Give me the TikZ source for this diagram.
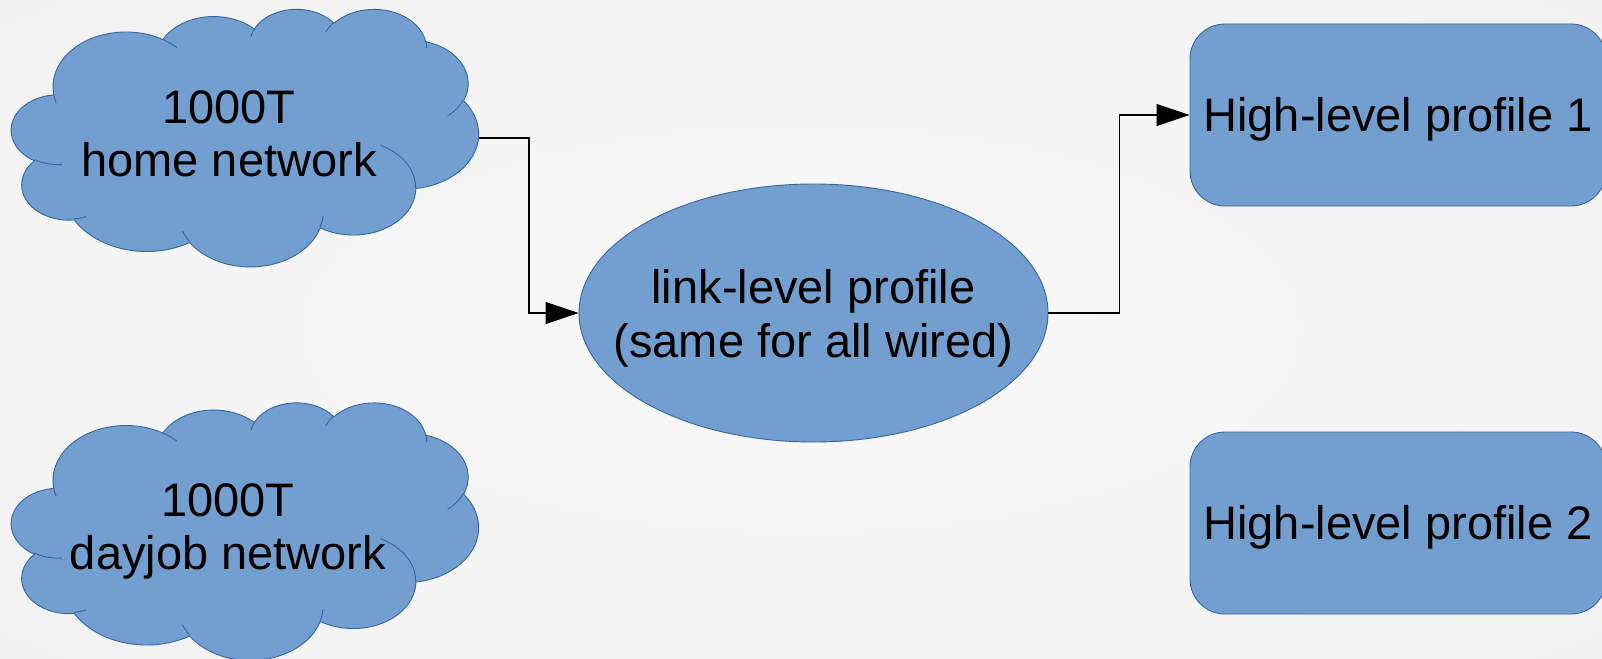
\documentclass[tikz,border=0pt]{standalone}
\usepackage{fontspec}
\setmainfont{Liberation Sans}
\usetikzlibrary{shapes.geometric,arrows.meta}

\definecolor{shapeblue}{HTML}{729FCF}
\definecolor{shapeedge}{HTML}{3465A4}
\definecolor{bgcentre}{HTML}{F8F8F8}
\definecolor{bgmiddle}{HTML}{F4F4F4}
\definecolor{bgedge}{HTML}{EDEDED}

% soft glow of the slide background
\pgfdeclareradialshading{slideglow}{\pgfpoint{0bp}{0bp}}{%
  color(0bp)=(bgcentre); color(25bp)=(bgmiddle); color(50bp)=(bgedge)}

% Cloud outline: elliptic arcs given by radii and "visual" start/sweep angles
% in a 432 x 432 frame with y pointing down.  They are turned into parametric
% angles for a y-up frame (hence the sign changes).
\def\cloudsx{1.08102}% frame width  467pt / 432
\def\cloudsy{0.59606}% frame height 257.5pt / 432
\makeatletter
\newcommand\cloudangles[5]{%
  \pgfmathsetmacro\cloud@s{atan2(-#2*sin(#4),#3*cos(#4))}%
  \pgfmathsetmacro\cloud@e{atan2(-#2*sin(#4+#5),#3*cos(#4+#5))}%
  \pgfmathsetmacro\cloud@d{-mod((\cloud@s)-(\cloud@e)+720,360)}%
  \expandafter\let\csname cloudS#1\endcsname\cloud@s
  \expandafter\let\csname cloudD#1\endcsname\cloud@d}
\makeatother
% outline
\cloudangles{oa}{67.53}{91.90}{-190.4875}{123.7805}
\cloudangles{ob}{53.33}{72.67}{-144.1024}{89.9452}
\cloudangles{oc}{43.65}{59.45}{-145.8079}{99.7230}
\cloudangles{od}{48.57}{65.95}{-130.9861}{117.2417}
\cloudangles{oe}{53.33}{72.73}{-78.7089}{109.0269}
\cloudangles{of}{67.75}{92.20}{-46.2673}{130.2690}
\cloudangles{og}{57.85}{78.67}{0.6250}{114.0333}
\cloudangles{oh}{67.52}{92.15}{22.4516}{115.1726}
\cloudangles{oi}{77.20}{105.43}{66.2426}{75.7110}
\cloudangles{oj}{43.60}{59.18}{-274.9421}{146.7356}
\cloudangles{ok}{43.45}{59.45}{-246.8285}{152.5189}
% seams between the puffs
\cloudangles{ia}{43.45}{59.45}{86.7420}{26.4295}
\cloudangles{ib}{43.60}{59.18}{73.6105}{11.4493}
\cloudangles{ic}{67.52}{92.15}{137.6242}{14.0811}
\cloudangles{id}{67.52}{92.15}{6.4533}{15.9984}
\cloudangles{ie}{57.85}{78.67}{-70.2924}{70.9174}
\cloudangles{if}{53.33}{72.73}{30.3180}{27.7515}
\cloudangles{ig}{48.57}{65.95}{-13.7443}{14.8589}
\cloudangles{ih}{48.57}{65.95}{-149.1815}{18.1954}
\cloudangles{ii}{43.65}{59.45}{-163.4943}{17.6864}
\cloudangles{ij}{67.53}{91.90}{-66.7070}{12.3194}
\cloudangles{ik}{67.53}{91.90}{157.6544}{11.8582}

% a point of the cloud frame (frame units, y down)
\def\cpt(#1,#2){({#1*\cloudsx},{-#2*\cloudsy})}
% one puff arc: name, x radius, y radius (frame units)
\newcommand\puff[3]{arc[start angle=\csname cloudS#1\endcsname,
  delta angle=\csname cloudD#1\endcsname,
  x radius=#2*\cloudsx, y radius=#3*\cloudsy]}

% the cloud, drawn with its frame's top-left corner at the origin
\newcommand\netcloud{%
  \path[shapefill] \cpt(39.00,143.70)
    \puff{oa}{67.53}{91.90} \puff{ob}{53.33}{72.67} \puff{oc}{43.65}{59.45}
    \puff{od}{48.57}{65.95} \puff{oe}{53.33}{72.73} \puff{of}{67.75}{92.20}
    \puff{og}{57.85}{78.67} \puff{oh}{67.52}{92.15} \puff{oi}{77.20}{105.43}
    \puff{oj}{43.60}{59.18} \puff{ok}{43.45}{59.45} -- cycle;
  \path[cloudseam]
    \cpt(46.93,261.77)  \puff{ia}{43.45}{59.45}
    \cpt(69.28,348.99)  \puff{ib}{43.60}{59.18}
    \cpt(164.78,390.90) \puff{ic}{67.52}{92.15}
    \cpt(288.27,347.51) \puff{id}{67.52}{92.15}
    \cpt(341.29,229.54) \puff{ie}{57.85}{78.67}
    \cpt(417.98,153.54) \puff{if}{53.33}{72.73}
    \cpt(383.24,54.26)  \puff{ig}{48.57}{65.95}
    \cpt(290.78,39.52)  \puff{ih}{48.57}{65.95}
    \cpt(221.41,47.20)  \puff{ii}{43.65}{59.45}
    \cpt(140.00,51.92)  \puff{ij}{67.53}{91.90}
    \cpt(41.27,157.89)  \puff{ik}{67.53}{91.90};
}

\tikzset{
  shapefill/.style={fill=shapeblue, draw=shapeedge, line width=0.9pt},
  cloudseam/.style={draw=shapeedge, line width=0.9pt}
}

\begin{document}
\begin{tikzpicture}[x=1pt, y=1pt,
  nodetext/.style={font=\fontsize{47}{53}\selectfont, align=center,
    text height=42.5pt, text depth=10pt, inner sep=0pt},
  profilebox/.style={shapefill, rounded corners=35pt, minimum width=416pt,
    minimum height=182pt, inner sep=0pt, font=\fontsize{47}{53}\selectfont,
    text height=42.5pt, text depth=10pt},
  conn/.style={draw=black, line width=1.1pt, -{Triangle[length=33pt, width=22pt]}}
]
\useasboundingbox (0,0) rectangle (1602,-658);
\clip (0,0) rectangle (1602,-658);
\shade[shading=slideglow] (0,0) rectangle (1602,-658);

% the two networks
\begin{scope}[shift={(11.5,-8.5)}]
  \netcloud
\end{scope}
\begin{scope}[shift={(11.5,-402)}]
  \netcloud
\end{scope}
\node[nodetext] (home)   at (229,-159.75) {1000T\\home network};
\node[nodetext] (dayjob) at (228,-552.75) {1000T\\dayjob network};
\coordinate (homeport) at (479,-138);

% link-level profile
\node[ellipse, shapefill, minimum width=469pt, minimum height=258pt, inner sep=0pt]
  (linkprof) at (813.5,-313) {};
\node[nodetext, font=\fontsize{47}{54}\selectfont] (linktext) at (813.5,-340.75)
  {link-level profile\\(same for all wired)};

% high-level profiles
\node[profilebox] (hlone) at (1398,-115) {High-level profile 1};
\node[profilebox] (hltwo) at (1398,-523) {High-level profile 2};

% connectors
\draw[conn] (homeport) -- ++(50,0) |- (linkprof.west);
\draw[conn] (linkprof.east) -- ++(71,0) |- (hlone.west);
\end{tikzpicture}
\end{document}
